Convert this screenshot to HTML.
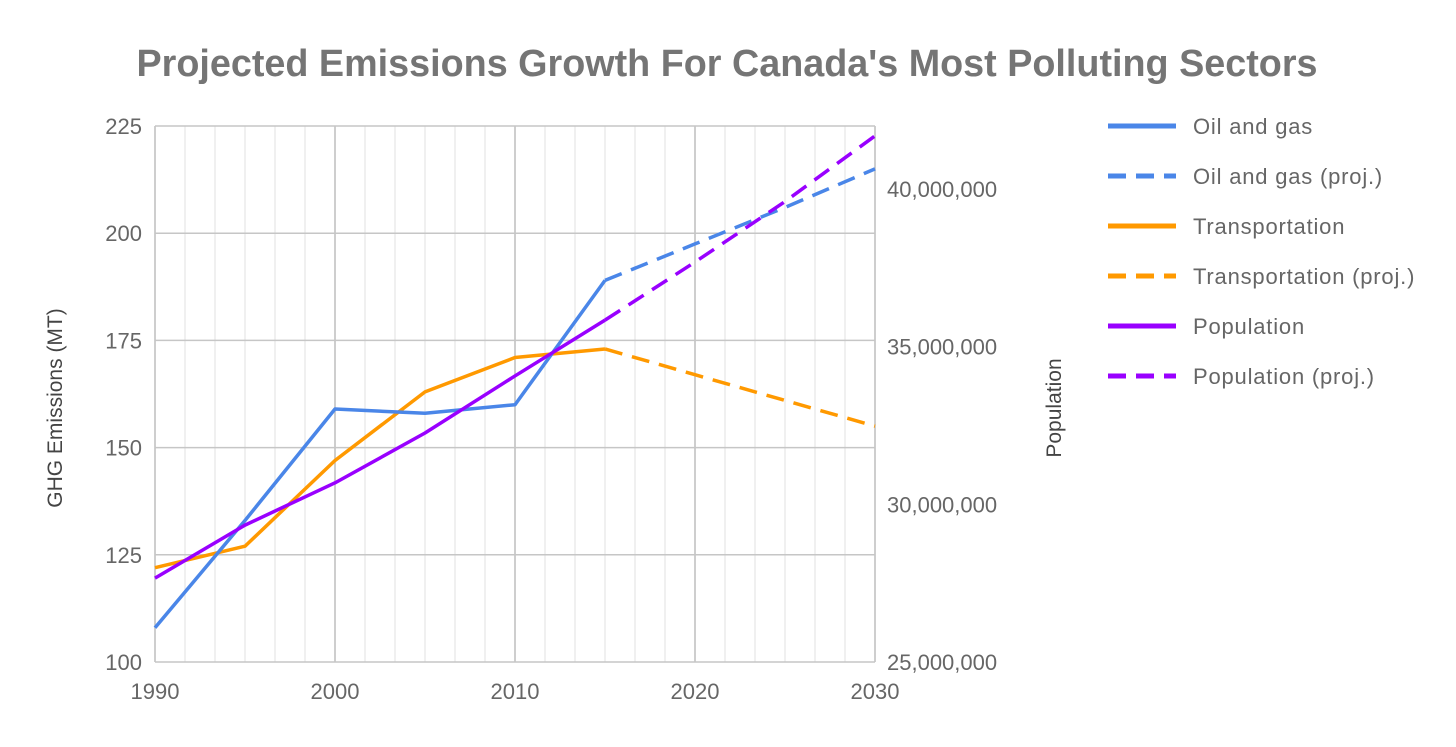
<!DOCTYPE html>
<html><head><meta charset="utf-8"><style>
html,body{margin:0;padding:0;background:#fff;}
svg text{font-family:"Liberation Sans",Roboto,sans-serif;}
</style></head><body>
<svg width="1456" height="742" xmlns="http://www.w3.org/2000/svg">
<text x="727" y="76" text-anchor="middle" font-size="38" font-weight="bold" fill="#757575" textLength="1181" lengthAdjust="spacingAndGlyphs">Projected Emissions Growth For Canada's Most Polluting Sectors</text>
<g id="grid"></g>
<g id="axes"></g>
<g id="series"></g>
<g id="legend"></g>
<text transform="translate(62,408) rotate(-90)" text-anchor="middle" font-size="21" fill="#444">GHG Emissions (MT)</text>
<text transform="translate(1061,408) rotate(-90)" text-anchor="middle" font-size="21" fill="#444">Population</text>
</svg>
<script>
const years=[1990,1995,2000,2005,2010,2015];
const projYears=[2015,2020,2025,2030];
const oilGas=[108,133,159,158,160,189];
const oilGasProj=[189,197.5,206,215];
const transport=[122,127,147,163,171,173];
const transportProj=[173,167,161,155];
const population=[27.66e6,29.34e6,30.68e6,32.26e6,34.07e6,35.84e6];
const populationProj=[35.84e6,37.68e6,39.6e6,41.68e6];
const leftTicks=[100,125,150,175,200,225];
const rightTicks=[25e6,30e6,35e6,40e6];
const xTicks=[1990,2000,2010,2020,2030];
const NS="http://www.w3.org/2000/svg";
const X0=155,X1=875,Y0=662,Y1=126;
const x=v=>X0+(v-1990)/40*(X1-X0);
const y=v=>Y0-(v-100)/125*(Y0-Y1);
const y2=v=>Y0-(v-25e6)/5e6*157.7;
function mk(t,a,p){const e=document.createElementNS(NS,t);for(const k in a)e.setAttribute(k,a[k]);p.appendChild(e);return e;}
const g=document.getElementById('grid'),ax=document.getElementById('axes'),s=document.getElementById('series'),lg=document.getElementById('legend');
for(let i=0;i<=24;i++){const xx=X0+i*(X1-X0)/24;const maj=i%6==0;
const l=mk('line',{x1:xx,x2:xx,y1:Y1,y2:Y0,stroke:maj?'#bdbdbd':'#e0e0e0','stroke-width':maj?1.5:1},g);

}
leftTicks.forEach(v=>{const l=mk('line',{x1:X0,x2:X1,y1:y(v),y2:y(v),stroke:'#c6c6c6','stroke-width':1.5},g);


const t=mk('text',{x:142,y:y(v)+8,'text-anchor':'end','font-size':22,fill:'#666'},ax);t.textContent=v;

});
rightTicks.forEach(v=>{const t=mk('text',{x:887,y:y2(v)+8,'font-size':22,fill:'#666'},ax);t.textContent=v.toLocaleString('en-US');

});
xTicks.forEach(v=>{const t=mk('text',{x:x(v),y:699,'text-anchor':'middle','font-size':22,fill:'#666'},ax);t.textContent=v;

});
function line(xs,vs,fy,col,dash,name){const pts=xs.map((xv,i)=>x(xv)+','+fy(vs[i])).join(' ');
const p=mk('polyline',{points:pts,fill:'none',stroke:col,'stroke-width':3.5,'stroke-linejoin':'round'},s);
if(dash)p.setAttribute('stroke-dasharray','18 10');

}
line(projYears,transportProj,y,'#ff9900',true,'transportation-proj-line');
line(years,transport,y,'#ff9900',false,'transportation-line');
line(projYears,oilGasProj,y,'#4a86e8',true,'oil-gas-proj-line');
line(years,oilGas,y,'#4a86e8',false,'oil-gas-line');
line(projYears,populationProj,y2,'#9900ff',true,'population-proj-line');
line(years,population,y2,'#9900ff',false,'population-line');
const leg=[['Oil and gas','#4a86e8',0],['Oil and gas (proj.)','#4a86e8',1],['Transportation','#ff9900',0],['Transportation (proj.)','#ff9900',1],['Population','#9900ff',0],['Population (proj.)','#9900ff',1]];
leg.forEach((d,i)=>{const yy=126+i*50;
const l=mk('line',{x1:1108,x2:1176,y1:yy,y2:yy,stroke:d[1],'stroke-width':5},lg);
if(d[2])l.setAttribute('stroke-dasharray','18 10');


const t=mk('text',{x:1193,y:yy+8,'font-size':22,'letter-spacing':0.8,fill:'#666'},lg);t.textContent=d[0];

});
</script>
</body></html>
